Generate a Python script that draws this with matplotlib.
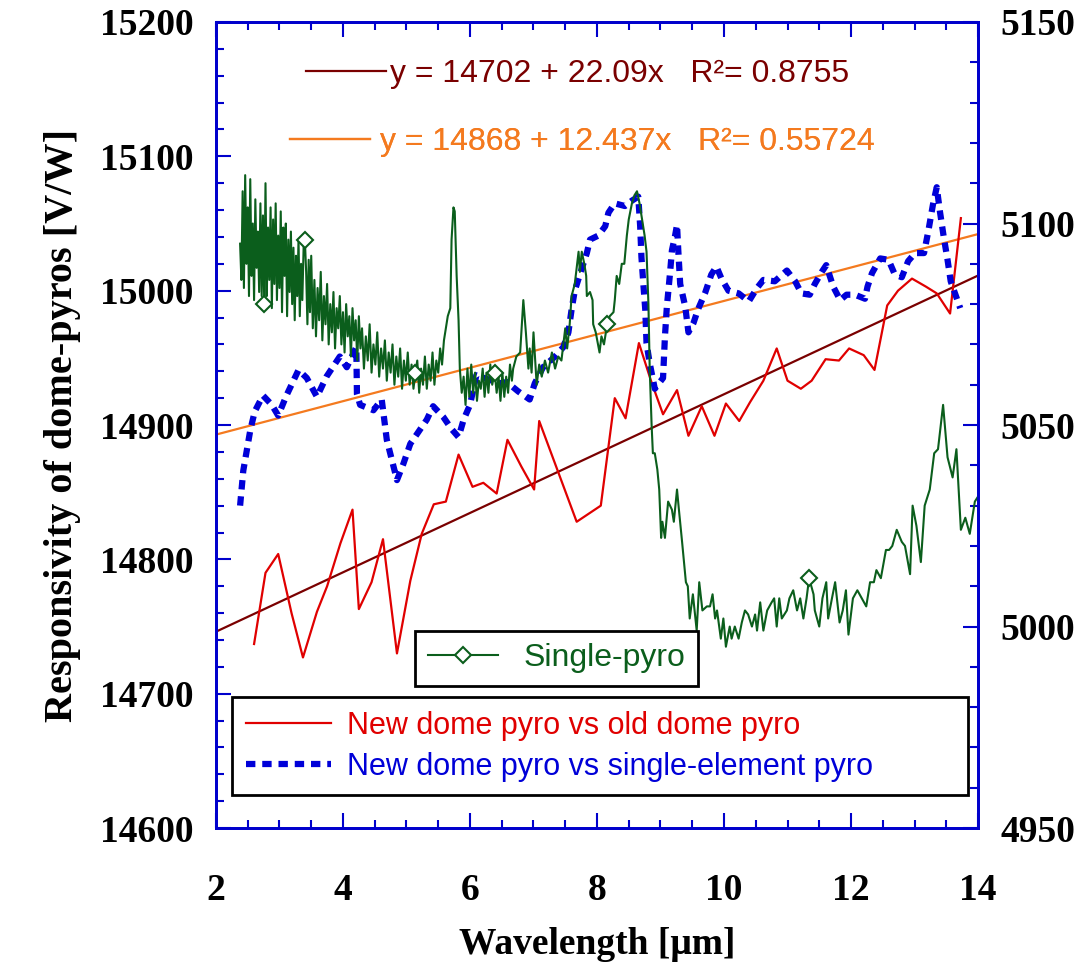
import numpy as np
import matplotlib.pyplot as plt
from matplotlib.ticker import MultipleLocator

plt.rcParams['font.family'] = 'Liberation Serif'
plt.rcParams['font.weight'] = 'bold'

# new dome pyro vs old dome pyro (left axis)
red_x = [2.60, 2.78, 2.98, 3.19, 3.37, 3.59, 3.75, 3.96, 4.15, 4.25, 4.45, 4.63, 4.85, 5.06,
         5.24, 5.43, 5.62, 5.82, 6.04, 6.21, 6.42, 6.59, 6.81, 7.01, 7.09, 7.68, 8.06, 8.28,
         8.45, 8.66, 8.85, 9.04, 9.26, 9.44, 9.65, 9.85, 10.03, 10.24, 10.41, 10.62, 10.83,
         11.00, 11.21, 11.38, 11.60, 11.81, 11.97, 12.20, 12.37, 12.57, 12.74, 12.96, 13.18,
         13.35, 13.56, 13.73]
red_y = [14737, 14790, 14804, 14760, 14727, 14761, 14780, 14812, 14837, 14763, 14783, 14815,
         14730, 14784, 14819, 14841, 14843, 14878, 14854, 14857, 14849, 14889, 14869, 14852,
         14903, 14828, 14840, 14920, 14905, 14961, 14933, 14908, 14926, 14892, 14914, 14892,
         14916, 14903, 14917, 14933, 14957, 14933, 14927, 14933, 14949, 14948, 14957, 14952,
         14941, 14989, 15000, 15009, 15003, 14998, 14983, 15054]

# new dome pyro vs single-element pyro (left axis)
blue_x = [2.38, 2.43, 2.54, 2.61, 2.74, 2.88, 2.98, 3.11, 3.22, 3.30, 3.43, 3.59, 3.74, 3.95,
          4.06, 4.21, 4.22, 4.27, 4.48, 4.61, 4.69, 4.77, 4.85, 4.95, 5.06, 5.19, 5.32, 5.42,
          5.58, 5.71, 5.82, 5.90, 6.00, 6.10, 6.22, 6.35, 6.47, 6.58, 6.76, 6.94, 7.02, 7.15,
          7.34, 7.47, 7.55, 7.60, 7.65, 7.73, 7.84, 7.89, 8.02, 8.13, 8.18, 8.28, 8.44, 8.55,
          8.65, 8.68, 8.70, 8.73, 8.76, 8.78, 8.83, 8.91, 9.04, 9.07, 9.10, 9.15, 9.18, 9.23,
          9.26, 9.28, 9.31, 9.39, 9.44, 9.52, 9.59, 9.70, 9.80, 9.88, 9.96, 10.07, 10.23,
          10.39, 10.52, 10.62, 10.80, 10.99, 11.12, 11.22, 11.35, 11.43, 11.54, 11.61, 11.72,
          11.83, 11.93, 12.06, 12.22, 12.26, 12.33, 12.46, 12.59, 12.69, 12.80, 12.90, 13.01,
          13.15, 13.22, 13.29, 13.35, 13.40, 13.46, 13.52, 13.57, 13.66, 13.72]
blue_y = [14840, 14866, 14896, 14910, 14922, 14915, 14907, 14922, 14933, 14941, 14935, 14921,
          14936, 14951, 14943, 14958, 14923, 14915, 14911, 14919, 14889, 14874, 14859, 14871,
          14886, 14895, 14904, 14914, 14906, 14897, 14891, 14904, 14915, 14937, 14935, 14933,
          14931, 14932, 14925, 14919, 14931, 14943, 14951, 14958, 14969, 14986, 15000, 15012,
          15028, 15038, 15041, 15048, 15058, 15065, 15063, 15067, 15070, 15048, 15025, 15005,
          14986, 14961, 14946, 14927, 14935, 14966, 14988, 15013, 15030, 15041, 15049, 15030,
          15005, 14988, 14969, 14976, 14986, 14998, 15012, 15018, 15009, 15000, 14998, 14992,
          15002, 15008, 15007, 15015, 15007, 14998, 14997, 15005, 15014, 15019, 15003, 14993,
          14997, 14997, 14994, 15003, 15013, 15024, 15023, 15012, 15010, 15022, 15028, 15028,
          15045, 15064, 15077, 15059, 15040, 15023, 15007, 14995, 14987]

# single-pyro (right axis)
green_x = [2.38, 2.40, 2.42, 2.44, 2.46, 2.48, 2.50, 2.52, 2.54, 2.56, 2.58, 2.60, 2.62, 2.64,
           2.66, 2.68, 2.70, 2.72, 2.74, 2.76, 2.78, 2.80, 2.82, 2.84, 2.86, 2.88, 2.90, 2.92,
           2.94, 2.96, 2.98, 3.00, 3.02, 3.04, 3.06, 3.08, 3.10, 3.12, 3.14, 3.16, 3.18, 3.20,
           3.22, 3.24, 3.26, 3.28, 3.30, 3.32, 3.34, 3.36, 3.38, 3.40, 3.42, 3.44, 3.46, 3.48,
           3.50, 3.525, 3.55, 3.575, 3.60, 3.625, 3.65, 3.675, 3.70, 3.725, 3.75, 3.775, 3.80,
           3.825, 3.85, 3.875, 3.90, 3.925, 3.95, 3.975, 4.00, 4.025, 4.05, 4.075, 4.10, 4.125,
           4.15, 4.175, 4.20, 4.225, 4.25, 4.275, 4.30, 4.33, 4.36, 4.39, 4.42, 4.45, 4.48,
           4.51, 4.54, 4.57, 4.60, 4.63, 4.66, 4.69, 4.72, 4.75, 4.78, 4.81, 4.84, 4.87, 4.90,
           4.93, 4.96, 4.99, 5.02, 5.05, 5.08, 5.11, 5.14, 5.17, 5.20, 5.23, 5.26, 5.29, 5.32,
           5.35, 5.38, 5.41, 5.44, 5.47, 5.50, 5.53, 5.56, 5.59, 5.62, 5.65, 5.69, 5.71, 5.74,
           5.76, 5.79, 5.82, 5.84, 5.87, 5.90, 5.93, 5.96, 5.99, 6.02, 6.05, 6.08, 6.11, 6.14,
           6.17, 6.20, 6.23, 6.26, 6.29, 6.32, 6.35, 6.39, 6.42, 6.45, 6.48, 6.51, 6.54, 6.57,
           6.60, 6.63, 6.66, 6.68, 6.73, 6.79, 6.84, 6.88, 6.92, 6.94, 6.97, 7.00, 7.05, 7.09,
           7.13, 7.18, 7.23, 7.29, 7.34, 7.39, 7.44, 7.50, 7.53, 7.57, 7.60, 7.65, 7.71, 7.73,
           7.76, 7.80, 7.83, 7.84, 7.89, 7.93, 7.94, 7.98, 8.04, 8.07, 8.11, 8.16, 8.20, 8.26,
           8.28, 8.31, 8.35, 8.39, 8.43, 8.47, 8.50, 8.55, 8.59, 8.63, 8.67, 8.71, 8.75, 8.78,
           8.81, 8.83, 8.86, 8.88, 8.91, 8.95, 8.98, 9.01, 9.03, 9.07, 9.12, 9.18, 9.21, 9.26,
           9.29, 9.34, 9.40, 9.43, 9.46, 9.51, 9.57, 9.61, 9.66, 9.73, 9.78, 9.82, 9.86, 9.89,
           9.95, 9.99, 10.03, 10.09, 10.12, 10.17, 10.23, 10.28, 10.33, 10.38, 10.44, 10.49,
           10.52, 10.57, 10.62, 10.68, 10.75, 10.79, 10.83, 10.87, 10.91, 10.99, 11.03, 11.09,
           11.15, 11.20, 11.25, 11.30, 11.34, 11.41, 11.43, 11.50, 11.55, 11.61, 11.64, 11.70,
           11.75, 11.82, 11.87, 11.92, 11.96, 12.03, 12.10, 12.17, 12.24, 12.30, 12.36, 12.40,
           12.47, 12.55, 12.60, 12.65, 12.72, 12.80, 12.85, 12.93, 12.97, 13.03, 13.10, 13.16,
           13.24, 13.31, 13.37, 13.45, 13.52, 13.60, 13.66, 13.73, 13.80, 13.87, 13.95, 14.03]
green_y = [5095, 5086, 5108, 5084, 5112, 5090, 5104, 5082, 5111, 5087, 5100, 5081, 5106, 5089,
           5098, 5083, 5105, 5082, 5102, 5080, 5110, 5082, 5099, 5086, 5104, 5079, 5101, 5085,
           5105, 5081, 5097, 5084, 5103, 5078, 5099, 5087, 5100, 5077, 5096, 5083, 5098, 5080,
           5094, 5076, 5092, 5082, 5096, 5077, 5090, 5081, 5094, 5096, 5088, 5075, 5091, 5078,
           5092, 5074, 5086, 5072, 5084, 5076, 5088, 5071, 5082, 5075, 5085, 5070, 5080,
           5073, 5083, 5069, 5079, 5074, 5082, 5070, 5078, 5068, 5080, 5072, 5077, 5067,
           5079, 5071, 5076, 5066, 5077, 5069, 5074, 5064, 5072, 5066, 5075, 5063, 5070,
           5065, 5073, 5062, 5069, 5064, 5071, 5061, 5068, 5063, 5070, 5060, 5067, 5062, 5069,
           5059, 5066, 5061, 5068, 5060, 5065, 5059, 5063, 5066, 5058, 5064, 5060, 5067, 5059,
           5065, 5061, 5068, 5060, 5066, 5063, 5069, 5065, 5071, 5074, 5077, 5079, 5096, 5104,
           5103, 5087, 5076, 5064, 5058, 5062, 5055, 5064, 5057, 5065, 5058, 5063, 5056, 5061,
           5059, 5064, 5057, 5063, 5058, 5065, 5060, 5063, 5058, 5062, 5056, 5063, 5057, 5062,
           5058, 5065, 5061, 5064, 5067, 5068, 5081, 5073, 5064, 5069, 5063, 5073, 5060, 5065,
           5062, 5066, 5063, 5068, 5064, 5067, 5066, 5074, 5069, 5075, 5082, 5085, 5093, 5088,
           5093, 5090, 5087, 5082, 5083, 5081, 5075, 5073, 5068, 5072, 5070, 5075, 5077, 5078,
           5081, 5087, 5085, 5090, 5090, 5097, 5101, 5105, 5107, 5108, 5105, 5101, 5097, 5093,
           5080, 5064, 5050, 5043, 5043, 5039, 5034, 5022, 5026, 5022, 5031, 5029, 5026, 5034,
           5029, 5021, 5011, 5010, 5002, 5008, 4999, 5011, 5004, 5005, 5005, 5008, 5002, 5004,
           4997, 5002, 4995, 5000, 4997, 5000, 4997, 5001, 5004, 5003, 5000, 5003,
           4999, 5006, 4999, 5004, 5006, 5007, 5000, 5007, 5002, 5004, 5007, 5009,
           5004, 5007, 5002, 5007, 5012, 5008, 5004, 5000, 5007, 5011, 5002, 5007,
           5011, 5001, 5004, 5009, 4998, 5007, 5009, 5007, 5005, 5011, 5011, 5014,
           5012, 5019, 5019, 5020, 5024, 5021, 5020, 5013, 5030, 5025, 5016, 5030,
           5034, 5043, 5044, 5055, 5042, 5037, 5044, 5024, 5027, 5023, 5031, 5033]
green_marks = [2.76, 3.40, 5.14, 6.39, 8.16, 11.34]

# linear fits shown in the chart
fit_red = (14702, 22.09, 0.8755)
fit_blue = (14868, 12.437, 0.55724)
fit_x = np.array([2.0, 14.0])

c_red = '#e00000'
c_blue = '#0000d8'
c_green = '#0b5e1c'
c_brown = '#7a0000'
c_orange = '#f47a1f'
c_axis = '#0000cc'

fig = plt.figure(figsize=(10.82, 9.64), dpi=100)
ax = fig.add_axes([0.1996, 0.141, 0.7043, 0.8362])
ax2 = ax.twinx()

l_fit1, = ax.plot(fit_x, fit_red[0] + fit_red[1] * fit_x, color=c_brown, lw=1.6)
l_fit2, = ax.plot(fit_x, fit_blue[0] + fit_blue[1] * fit_x, color=c_orange, lw=1.6)
l_red, = ax.plot(red_x, red_y, color=c_red, lw=1.6)
l_blue, = ax.plot(blue_x, blue_y, color=c_blue, lw=4.5, ls=(0, (1.5, 1.1)))

gx = np.array(green_x)
mark_idx = [int(np.argmin(np.abs(gx - m))) for m in green_marks]
l_green, = ax2.plot(green_x, green_y, color=c_green, lw=1.5, marker='D', ms=8,
                    mfc='white', mec=c_green, mew=1.5, markevery=mark_idx)

ax.set_xlim(2, 14)
ax.set_ylim(14600, 15200)
ax2.set_ylim(4950, 5150)

ax.xaxis.set_major_locator(MultipleLocator(2))
ax.xaxis.set_minor_locator(MultipleLocator(0.5))
ax.yaxis.set_major_locator(MultipleLocator(100))
ax.yaxis.set_minor_locator(MultipleLocator(20))
ax2.yaxis.set_major_locator(MultipleLocator(50))
ax2.yaxis.set_minor_locator(MultipleLocator(10))

for a in (ax, ax2):
    for s in a.spines.values():
        s.set_color(c_axis)
        s.set_linewidth(2)
ax.tick_params(axis='both', which='both', direction='in', color=c_axis, width=1.5,
               top=True, right=False, labelsize=27)
ax.tick_params(which='major', length=11)
ax.tick_params(which='minor', length=6)
ax.tick_params(axis='x', pad=32)
ax.tick_params(axis='y', pad=16)
ax2.tick_params(axis='y', which='both', direction='in', color=c_axis, width=1.5,
                labelsize=27, pad=16)
ax2.tick_params(which='major', length=11)
ax2.tick_params(which='minor', length=6)

ax.set_xlabel('Wavelength [\u03bcm]', fontsize=27, fontweight='bold', labelpad=14)
ax.set_ylabel('Responsivity of dome-pyros [V/W]', fontsize=29, fontweight='bold',
              labelpad=14)

sans = {'family': 'Liberation Sans', 'weight': 'normal', 'size': 22}
sans_fit = {'family': 'Liberation Sans', 'weight': 'normal', 'size': 23}

leg1 = ax.legend([l_fit1], ['y = %d + %.2fx   R\u00b2= %.4f' % fit_red],
                 loc='upper left', bbox_to_anchor=(0.08, 0.99), frameon=False,
                 prop=sans_fit, labelcolor=c_brown, handlelength=2.5, handletextpad=0.15)
ax.add_artist(leg1)
leg2 = ax.legend([l_fit2], ['y = %d + %.3fx   R\u00b2= %.5f' % fit_blue],
                 loc='upper left', bbox_to_anchor=(0.06, 0.905), frameon=False,
                 prop=sans_fit, labelcolor=c_orange, handlelength=2.5, handletextpad=0.3)
ax.add_artist(leg2)

leg3 = ax2.legend([l_green], ['Single-pyro'], loc='upper left',
                  bbox_to_anchor=(0.261, 0.245), prop=sans_fit, labelcolor=c_green,
                  fancybox=False, edgecolor='black', framealpha=1,
                  handlelength=2.2, borderpad=0.4, borderaxespad=0)
leg3.get_frame().set_linewidth(2)
ax2.add_artist(leg3)
leg4 = ax2.legend([l_red, l_blue], ['New dome pyro vs old dome pyro',
                                    'New dome pyro vs single-element pyro'],
                  loc='upper left', bbox_to_anchor=(0.021, 0.0385, 0.966, 0.124),
                  mode='expand', prop=sans, labelcolor=[c_red, c_blue],
                  fancybox=False, edgecolor='black', framealpha=1,
                  handlelength=2.8, handletextpad=0.5, borderpad=0.45,
                  labelspacing=0.35, borderaxespad=0)
leg4.get_frame().set_linewidth(2)

fig.savefig('out.png', dpi=100)
